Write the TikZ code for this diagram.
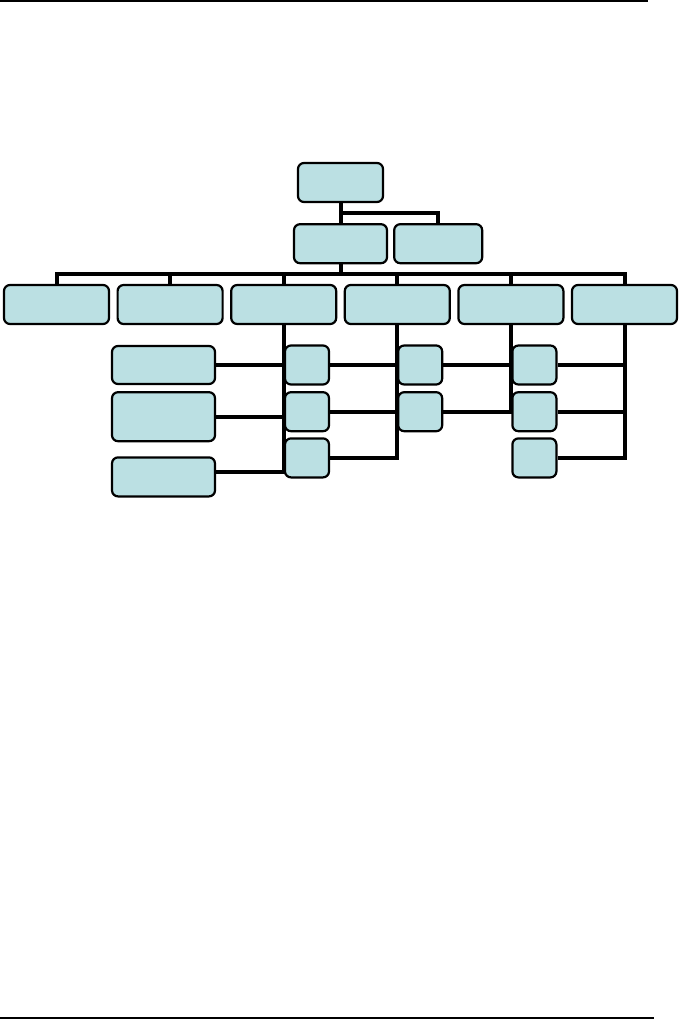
\documentclass[tikz,border=0pt]{standalone}
\usepackage{tikz}
\usetikzlibrary{positioning, backgrounds}
\definecolor{boxblue}{RGB}{187,224,227}

\begin{document}
\begin{tikzpicture}[x=1pt, y=-1pt, node distance=6pt,
  box/.style={draw, line width=2.2pt, rounded corners=6pt, fill=boxblue, inner sep=0pt},
  wide/.style={box, minimum width=105pt, minimum height=39pt},
  small/.style={box, minimum width=44pt, minimum height=39pt},
  link/.style={line width=4pt}]
\useasboundingbox (0,0) rectangle (679,1020);
% page rules
\draw[line width=1.5pt] (0,0.8) -- (648,0.8);
\draw[line width=2pt] (0,1017.7) -- (654,1017.7);
% head and second row
\node[box, minimum width=85pt, minimum height=39pt] (top) at (340.5,182.5) {};
\node[box, minimum width=93pt, minimum height=39pt, below=20pt of top] (mid1) {};
\node[box, minimum width=88pt, minimum height=39pt, right=5pt of mid1] (mid2) {};
% third row
\node[wide] (d1) at (56.5,304.5) {};
\node[wide, right=6.4pt of d1] (d2) {};
\node[wide, right=6.4pt of d2] (d3) {};
\node[wide, right=6.4pt of d3] (d4) {};
\node[wide, right=6.4pt of d4] (d5) {};
\node[wide, right=6.4pt of d5] (d6) {};
% left column
\node[box, minimum width=103pt, minimum height=38pt] (la) at (163.5,365) {};
\node[box, minimum width=103pt, minimum height=49pt, below=6pt of la] (lb) {};
\node[box, minimum width=103pt, minimum height=39pt, below=14pt of lb] (lc) {};
% small boxes
\node[small] (s31) at (307,365) {};
\node[small, below=5.5pt of s31] (s32) {};
\node[small, below=5pt of s32] (s33) {};
\node[small, right=67pt of s31] (s41) {};
\node[small, below=5.5pt of s41] (s42) {};
\node[small, right=68pt of s41] (s51) {};
\node[small, below=5.5pt of s51] (s52) {};
\node[small, below=5pt of s52] (s53) {};
% connectors behind the boxes
\begin{scope}[on background layer]
\begin{scope}[link]
\draw (top) -- (mid1);
\draw ([yshift=-10pt]top.south) -| (mid2);
\coordinate[below=10pt of mid1] (bus);
\draw (mid1) -- (bus);
\draw (d1) |- (bus) -| (d6);
\draw (d2) -- (d2 |- bus);
\draw (d3) -- (d3 |- bus);
\draw (d4) -- (d4 |- bus);
\draw (d5) -- (d5 |- bus);
\coordinate[yshift=4.5pt] (cend) at (lc.east);
\draw (d3) |- (cend);
\draw (la) -- (la -| d3);
\draw (lb) -- (lb -| d3);
\draw (d4) |- (s33);
\draw (s31) -- (s31 -| d4);
\draw (s32) -- (s32 -| d4);
\draw (d5) |- (s42);
\draw (s41) -- (s41 -| d5);
\draw (d6) |- (s53);
\draw (s51) -- (s51 -| d6);
\draw (s52) -- (s52 -| d6);
\end{scope}
\end{scope}
\end{tikzpicture}
\end{document}
